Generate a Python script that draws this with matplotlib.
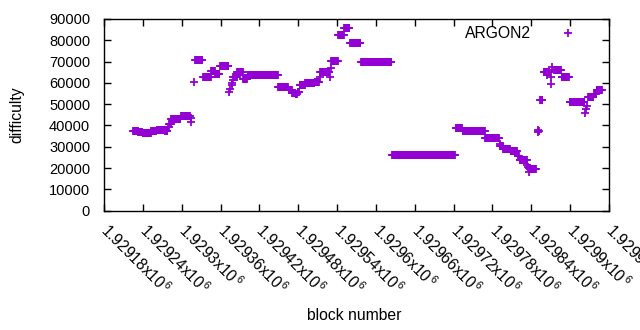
import numpy as np
import matplotlib.pyplot as plt

plt.rcParams['font.family'] = ['Liberation Sans', 'DejaVu Sans']
plt.rcParams['mathtext.fontset'] = 'custom'
plt.rcParams['mathtext.rm'] = 'Liberation Sans'
plt.rcParams['mathtext.it'] = 'Liberation Sans:italic'

base = 1929180
seg_start = [45, 53, 60, 73, 82, 94, 99, 101, 104, 119, 134, 135, 139, 141, 153, 166, 172,
             179, 193, 195, 197, 198, 199, 200, 206, 215, 222, 269, 285, 291, 296, 299,
             302, 311, 326, 333, 334, 349, 350, 351, 362, 371, 380, 397, 445, 543, 554,
             589, 611, 612, 617, 628, 639, 642, 654, 655, 656, 657, 658, 670, 671, 672,
             674, 679, 685, 686, 690, 691, 692, 695, 707, 719, 743, 745, 746, 748, 757, 761]
seg_end = [52, 59, 72, 81, 93, 98, 100, 103, 118, 133, 134, 135, 139, 152, 165, 171, 178,
           192, 193, 195, 197, 198, 199, 205, 214, 221, 268, 284, 290, 295, 298, 301,
           310, 325, 332, 333, 348, 349, 350, 361, 370, 379, 396, 444, 542, 553, 588,
           610, 611, 616, 627, 638, 641, 653, 654, 655, 656, 657, 667, 670, 671, 672,
           677, 684, 685, 688, 690, 691, 692, 706, 718, 742, 743, 745, 746, 756, 760, 769]
seg_diff = [37400, 36900, 36500, 37200, 37900, 37300, 39200, 40600, 43100, 44400, 43300,
            41800, 60600, 70600, 62700, 65600, 64200, 67900, 55900, 57000, 58900, 60000,
            61300, 62600, 65000, 62000, 63500, 58000, 56700, 55300, 54600, 55800, 59200,
            59900, 60500, 63000, 65000, 63000, 66800, 70200, 82300, 86000, 78600, 69700,
            26100, 38600, 37300, 34100, 31200, 30500, 29100, 28000, 25800, 23800, 21500,
            20600, 19900, 18200, 19600, 37000, 38000, 37500, 52000, 64900, 63700, 64900,
            59500, 62900, 67600, 66000, 62600, 51000, 45800, 47700, 49200, 53400, 54600, 56500]

blocks = np.concatenate([np.arange(base + a, base + b + 1) for a, b in zip(seg_start, seg_end)])
diff = np.concatenate([np.full(b - a + 1, d) for a, b, d in zip(seg_start, seg_end, seg_diff)])

xticks = np.arange(1929180, 1929961, 60)
xlabels = ['%gx10$^{\\,6}$' % (v / 1e6) for v in xticks]

fig = plt.figure(figsize=(6.4, 3.3), dpi=100)
ax = fig.add_axes([104 / 640, 1 - 210.7 / 330, 505 / 640, 191.7 / 330])

ax.plot(blocks, diff, linestyle='none', marker='+', ms=5.2, mew=1.3,
        color='#9400d3', label='ARGON2')

ax.set_xlim(1929180, 1929960)
ax.set_ylim(0, 90000)
ax.set_yticks(range(0, 90001, 10000))
ax.set_xticks(xticks)
ax.set_xticklabels(xlabels, rotation=-45, ha='left', va='center',
                   rotation_mode='anchor', fontsize=11.2)
ax.tick_params(direction='in', top=True, right=True, length=5, width=1)
ax.tick_params(axis='y', pad=10, labelsize=10.5)
ax.tick_params(axis='x', pad=12)
for s in ax.spines.values():
    s.set_linewidth(1)

ax.legend(loc='upper right', frameon=False, markerfirst=False, fontsize=11.3,
          handlelength=2.5, handletextpad=1.1, bbox_to_anchor=(0.986, 1.035))

fig.text(354 / 640, 1 - 316 / 330, 'block number', ha='center', va='center', fontsize=11.3)
fig.text(17 / 640, 1 - 115 / 330, 'difficulty', ha='center', va='center',
         rotation=90, fontsize=11.3)

plt.savefig('out.png')
